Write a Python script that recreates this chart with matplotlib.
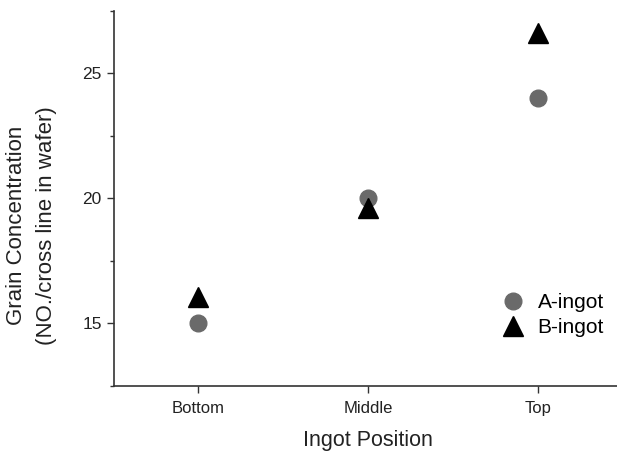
import matplotlib
matplotlib.use("Agg")
import matplotlib.pyplot as plt
from matplotlib.ticker import MultipleLocator

plt.rcParams['font.family'] = ['Liberation Sans', 'DejaVu Sans']

positions = ['Bottom', 'Middle', 'Top']
a_ingot = [15.0, 20.0, 24.0]
b_ingot = [16.05, 19.6, 26.6]

fig = plt.figure(figsize=(6.17, 4.53), dpi=100)
ax = fig.add_axes([0.184, 0.148, 0.825, 0.828])

x = list(range(len(positions)))
ax.plot(x, a_ingot, linestyle='none', marker='o', markersize=12,
        color='#6a6a6a', label='A-ingot')
ax.plot(x, b_ingot, linestyle='none', marker='^', markersize=15,
        color='black', label='B-ingot')

ax.set_xlim(-0.5, 2.5)
ax.set_ylim(12.5, 27.5)
ax.set_xticks(x)
ax.set_xticklabels(positions, fontsize=12)
ax.set_yticks([15, 20, 25])
ax.yaxis.set_minor_locator(MultipleLocator(2.5))
ax.tick_params(axis='y', labelsize=12.5, direction='out', length=5, width=1, colors='#333333', labelcolor='#222222')
ax.tick_params(axis='y', which='minor', length=3, width=1, colors='#333333')
ax.tick_params(axis='x', direction='out', length=5, width=1, colors='#333333', labelcolor='#222222', pad=6)

for side in ['top', 'right']:
    ax.spines[side].set_visible(False)
for side in ['left', 'bottom']:
    ax.spines[side].set_linewidth(1.2)
    ax.spines[side].set_color('#333333')

ax.set_xlabel('Ingot Position', fontsize=15.5, color='#222222', labelpad=10)
ax.set_ylabel('Grain Concentration\n(NO./cross line in wafer)', fontsize=16,
              color='#222222', linespacing=1.55)
ax.yaxis.set_label_coords(-0.111, 0.427)

ax.legend(loc='upper left', bbox_to_anchor=(0.743, 0.27), frameon=False,
          fontsize=15, handletextpad=0.6, labelspacing=0.3,
          borderaxespad=0, handlelength=1.2)

fig.savefig('out.png', dpi=100)
